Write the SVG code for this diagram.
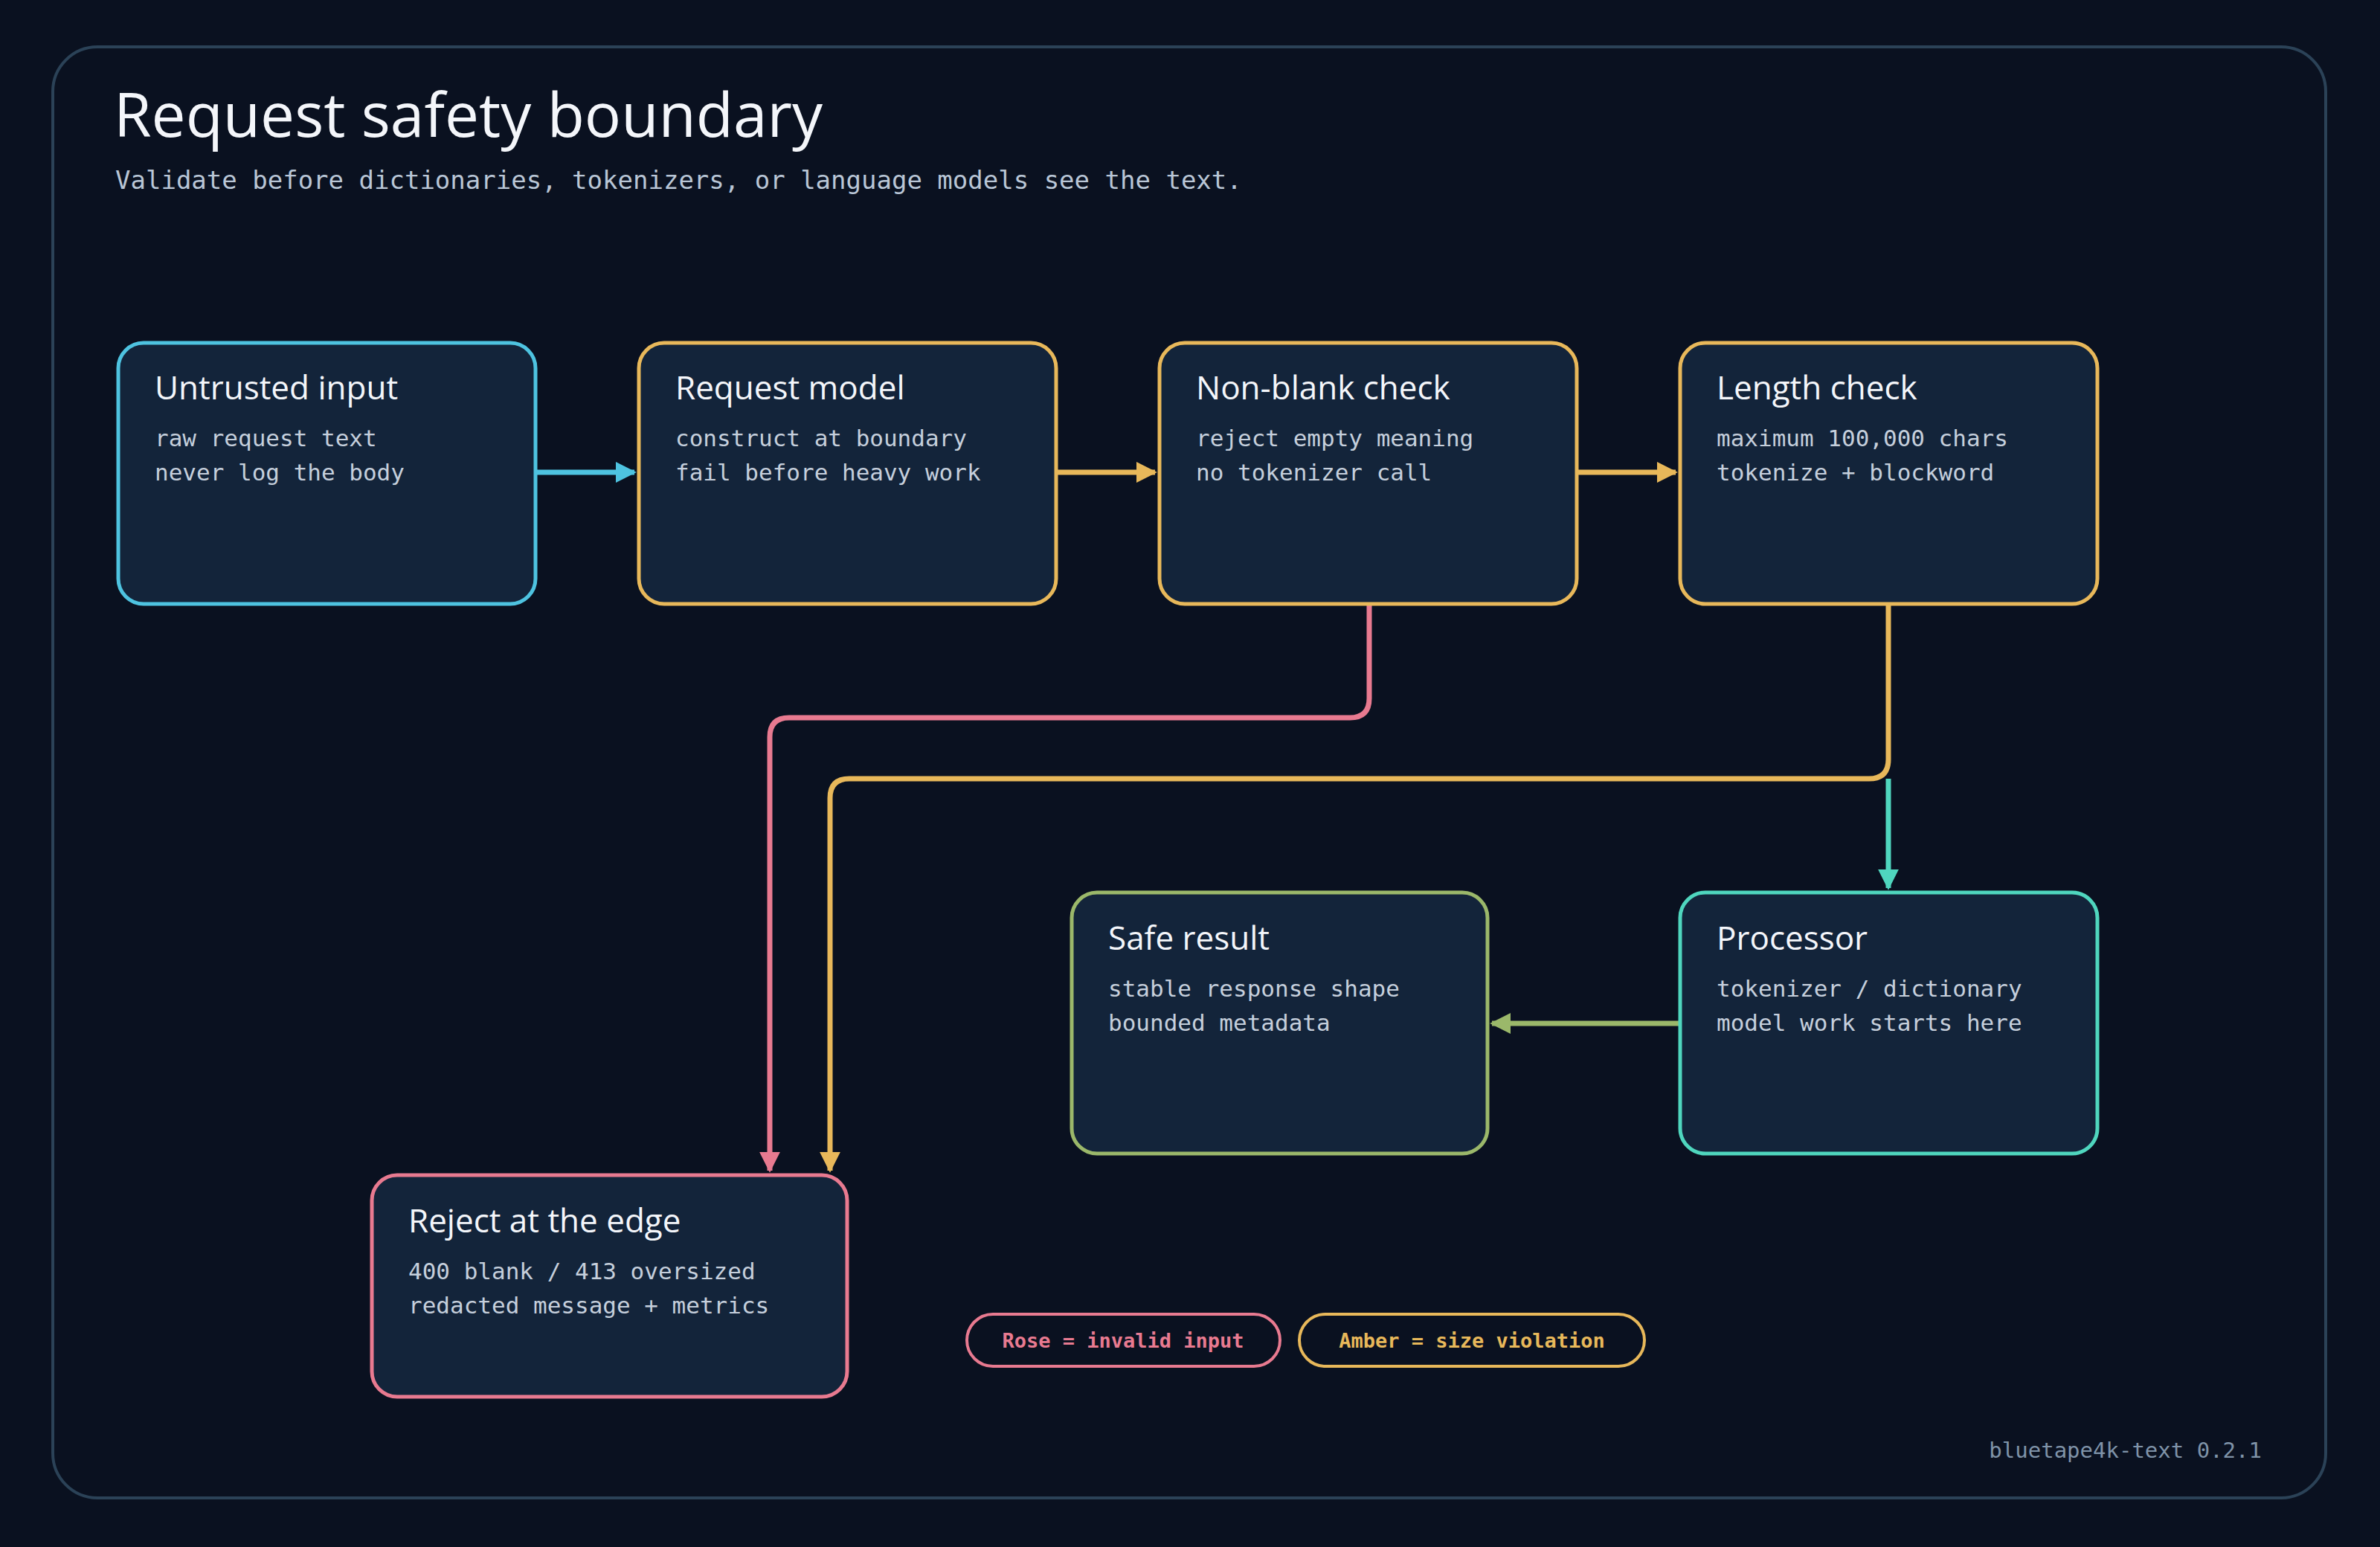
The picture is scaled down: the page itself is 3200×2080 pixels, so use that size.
<svg xmlns="http://www.w3.org/2000/svg" width="3200" height="2080" viewBox="0 0 3200 2080">
<style>
.node{fill:#13243a;stroke-width:5}
.t{font-family:"Open Sans","Liberation Sans",sans-serif;font-size:44px;fill:#f4f6fa}
.b{font-family:"DejaVu Sans Mono","Liberation Mono",monospace;font-size:31px;fill:#c5cfdc}
.c{fill:none;stroke-width:7;stroke-linejoin:round}
.lg{font-family:"DejaVu Sans Mono","Liberation Mono",monospace;font-size:27px;font-weight:bold}
</style>
<defs>
<marker id="ac" viewBox="0 0 10 10" refX="9" refY="5" markerWidth="4" markerHeight="4" orient="auto"><path d="M0,0L10,5L0,10z" fill="#4ec3e0"/></marker>
<marker id="aa" viewBox="0 0 10 10" refX="9" refY="5" markerWidth="4" markerHeight="4" orient="auto"><path d="M0,0L10,5L0,10z" fill="#e8b85a"/></marker>
<marker id="ar" viewBox="0 0 10 10" refX="9" refY="5" markerWidth="4" markerHeight="4" orient="auto"><path d="M0,0L10,5L0,10z" fill="#e87a90"/></marker>
<marker id="at" viewBox="0 0 10 10" refX="9" refY="5" markerWidth="4" markerHeight="4" orient="auto"><path d="M0,0L10,5L0,10z" fill="#4fd6be"/></marker>
<marker id="ag" viewBox="0 0 10 10" refX="9" refY="5" markerWidth="4" markerHeight="4" orient="auto"><path d="M0,0L10,5L0,10z" fill="#9bb86a"/></marker>
</defs>
<rect width="3200" height="2080" fill="#0a1120"/>
<rect x="71" y="63" width="3056" height="1951" rx="60" fill="#0a1120" stroke="#2b4257" stroke-width="4"/>
<text x="153" y="184" font-family="'Open Sans','Liberation Sans',sans-serif" font-size="82" fill="#f4f6fa">Request safety boundary</text>
<text x="155" y="254" font-family="'DejaVu Sans Mono','Liberation Mono',monospace" font-size="34" fill="#b9c6d6">Validate before dictionaries, tokenizers, or language models see the text.</text>
<g id="connectors">
<path class="c" stroke="#4ec3e0" d="M720,635H853" marker-end="url(#ac)"/>
<path class="c" stroke="#e8b85a" d="M1420,635H1553" marker-end="url(#aa)"/>
<path class="c" stroke="#e8b85a" d="M2120,635H2253" marker-end="url(#aa)"/>
<path class="c" stroke="#e87a90" d="M1841,812V939Q1841,965 1815,965H1061Q1035,965 1035,991V1574" marker-end="url(#ar)"/>
<path class="c" stroke="#e8b85a" d="M2539,812V1021Q2539,1047 2513,1047H1142Q1116,1047 1116,1073V1574" marker-end="url(#aa)"/>
<path class="c" stroke="#4fd6be" d="M2539,1047V1194" marker-end="url(#at)"/>
<path class="c" stroke="#9bb86a" d="M2259,1376H2006" marker-end="url(#ag)"/>
</g>
<g id="untrusted"><rect class="node" x="159" y="461" width="561" height="351" rx="34" stroke="#4ec3e0"/><text class="t" x="208" y="537">Untrusted input</text><text class="b" x="208" y="600">raw request text</text><text class="b" x="208" y="646">never log the body</text></g>
<g id="request"><rect class="node" x="859" y="461" width="561" height="351" rx="34" stroke="#e8b85a"/><text class="t" x="908" y="537">Request model</text><text class="b" x="908" y="600">construct at boundary</text><text class="b" x="908" y="646">fail before heavy work</text></g>
<g id="nonblank"><rect class="node" x="1559" y="461" width="561" height="351" rx="34" stroke="#e8b85a"/><text class="t" x="1608" y="537">Non-blank check</text><text class="b" x="1608" y="600">reject empty meaning</text><text class="b" x="1608" y="646">no tokenizer call</text></g>
<g id="length"><rect class="node" x="2259" y="461" width="561" height="351" rx="34" stroke="#e8b85a"/><text class="t" x="2308" y="537">Length check</text><text class="b" x="2308" y="600">maximum 100,000 chars</text><text class="b" x="2308" y="646">tokenize + blockword</text></g>
<g id="processor"><rect class="node" x="2259" y="1200" width="561" height="351" rx="34" stroke="#4fd6be"/><text class="t" x="2308" y="1277">Processor</text><text class="b" x="2308" y="1340">tokenizer / dictionary</text><text class="b" x="2308" y="1386">model work starts here</text></g>
<g id="safe"><rect class="node" x="1441" y="1200" width="559" height="351" rx="34" stroke="#9bb86a"/><text class="t" x="1490" y="1277">Safe result</text><text class="b" x="1490" y="1340">stable response shape</text><text class="b" x="1490" y="1386">bounded metadata</text></g>
<g id="reject"><rect class="node" x="500" y="1580" width="639" height="298" rx="34" stroke="#e87a90"/><text class="t" x="549" y="1657">Reject at the edge</text><text class="b" x="549" y="1720">400 blank / 413 oversized</text><text class="b" x="549" y="1766">redacted message + metrics</text></g>
<g id="legend">
<rect x="1300" y="1767" width="421" height="70" rx="35" fill="#0a1120" stroke="#e87a90" stroke-width="4"/><text class="lg" x="1510" y="1812" text-anchor="middle" fill="#e87a90">Rose = invalid input</text>
<rect x="1747" y="1767" width="464" height="70" rx="35" fill="#0a1120" stroke="#e8b85a" stroke-width="4"/><text class="lg" x="1979" y="1812" text-anchor="middle" fill="#e8b85a">Amber = size violation</text>
</g>
<text x="3041" y="1960" text-anchor="end" font-family="'DejaVu Sans Mono','Liberation Mono',monospace" font-size="29" fill="#7f93a8">bluetape4k-text 0.2.1</text>
</svg>
